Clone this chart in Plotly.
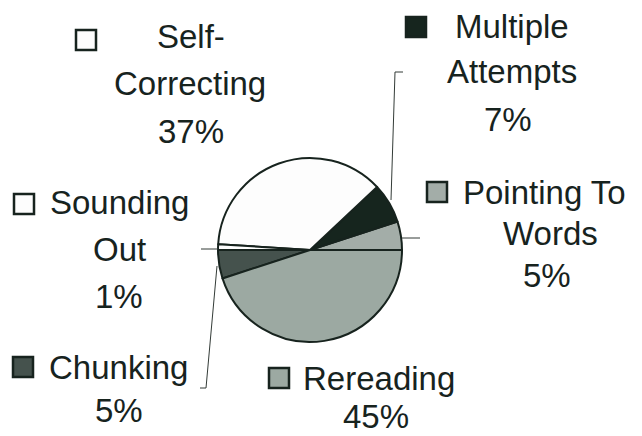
import plotly.graph_objects as go

# Reading strategies and their share of observations (percent)
categories = ["Pointing To Words", "Multiple Attempts", "Self-Correcting",
              "Sounding Out", "Chunking", "Rereading"]
values = [5, 7, 37, 1, 5, 45]
# Text lines for each label (name wrapped, percentage appended below)
name_lines = [["Pointing To", "Words"], ["Multiple", "Attempts"], ["Self-", "Correcting"],
              ["Sounding", "Out"], ["Chunking"], ["Rereading"]]

W, H = 642, 436
INK = "#17231e"
slice_colors = ["#a3ada8", "#16251e", "#fdfdfd", "#fdfdfd", "#45524d", "#9ca9a2"]

# Label layout: marker square centre, and (x, y) centre of each text line
label_layout = {
    "Pointing To Words": dict(sq=(437, 192), lines=[(544, 192), (550, 233), (547, 275)]),
    "Multiple Attempts": dict(sq=(416, 27), lines=[(512, 26), (512, 71), (508, 119)]),
    "Self-Correcting": dict(sq=(86, 40), lines=[(191, 36), (190, 83), (191, 131)]),
    "Sounding Out": dict(sq=(24, 204), lines=[(119, 202), (119, 249), (119, 296)]),
    "Chunking": dict(sq=(23, 367), lines=[(118, 367), (119, 410)]),
    "Rereading": dict(sq=(279, 378), lines=[(379, 378), (376, 416)]),
}

# Pie geometry in pixels
cx, cy, r = 310, 250, 92

# Counterclockwise pies in plotly end their first slice at `rotation`,
# so start the first slice at 3 o'clock by offsetting with its angle.
first_angle = 360 * values[0] / sum(values)

fig = go.Figure()
fig.add_trace(go.Pie(
    labels=categories,
    values=values,
    sort=False,
    direction="counterclockwise",
    rotation=90 - first_angle,
    textinfo="none",
    hoverinfo="skip",
    marker=dict(colors=slice_colors, line=dict(color=INK, width=2)),
    domain=dict(x=[(cx - r) / W, (cx + r) / W], y=[(H - cy - r) / H, (H - cy + r) / H]),
    showlegend=False,
))

font = dict(family="Liberation Sans, Arial, sans-serif", size=33, color=INK)
annotations = []
shapes = []
SQ = 20
for name, val, lines in zip(categories, values, name_lines):
    lay = label_layout[name]
    texts = lines + [f"{val}%"]
    for t, (x, y) in zip(texts, lay["lines"]):
        annotations.append(dict(x=x, y=y, xref="x", yref="y", text=t, showarrow=False,
                                xanchor="center", yanchor="middle", font=font,
                                borderpad=0))
    sx, sy = lay["sq"]
    fill = slice_colors[categories.index(name)]
    shapes.append(dict(type="rect", xref="x", yref="y",
                       x0=sx - SQ / 2, x1=sx + SQ / 2, y0=sy - SQ / 2, y1=sy + SQ / 2,
                       fillcolor=fill, line=dict(color=INK, width=2.5)))

# Leader lines from the slices to their labels
leaders = [
    "M 391 200 L 395 72 L 403 72",      # Multiple Attempts
    "M 402 238 L 420 238",              # Pointing To Words
    "M 218 249 L 201 249",              # Sounding Out
    "M 217 266 L 206 388 L 200 388",    # Chunking
]
for p in leaders:
    shapes.append(dict(type="path", xref="x", yref="y", path=p,
                       line=dict(color="#333b37", width=1)))

fig.update_layout(
    width=W, height=H,
    margin=dict(l=0, r=0, t=0, b=0),
    paper_bgcolor="white", plot_bgcolor="rgba(0,0,0,0)",
    xaxis=dict(range=[0, W], visible=False, fixedrange=True),
    yaxis=dict(range=[H, 0], visible=False, fixedrange=True),
    annotations=annotations,
    shapes=shapes,
)

fig.write_html("out.html")
